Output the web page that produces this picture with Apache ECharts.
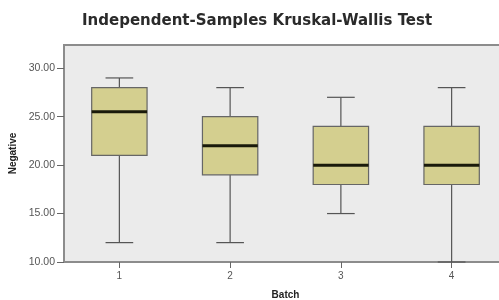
<!DOCTYPE html>
<html><head><meta charset="utf-8">
<script src="https://cdn.jsdelivr.net/npm/echarts@6/dist/echarts.min.js"></script>
<style>html,body{margin:0;padding:0;background:#fff}#c{width:499px;height:300px}</style>
</head><body><div id="c"></div>
<script>
var categories = ['1', '2', '3', '4'];
var mins    = [12, 12, 15, 10];
var q1s     = [21, 19, 18, 18];
var medians = [25.5, 22, 20, 20];
var q3s     = [28, 25, 24, 24];
var maxs    = [29, 28, 27, 28];
var yTicks  = [10, 15, 20, 25, 30];

var data = categories.map(function (c, i) { return [i, mins[i], q1s[i], medians[i], q3s[i], maxs[i]]; });

var chart = echarts.init(document.getElementById('c'), null, {renderer: 'canvas'});
chart.setOption({
  animation: false,
  title: {
    text: 'Independent-Samples Kruskal-Wallis Test', left: 77, top: 9,
    textStyle: {fontFamily: 'DejaVu Sans', fontSize: 15, fontWeight: 'bold', color: '#2a2a2a'}
  },
  grid: {left: 64, width: 443, top: 45, height: 217, outerBoundsMode: 'none', containLabel: false,
    show: true, backgroundColor: '#ebebeb', borderColor: '#8c8c8c', borderWidth: 2},
  xAxis: {
    type: 'category', data: categories, name: 'Batch', nameLocation: 'middle', nameGap: 28,
    nameTextStyle: {fontFamily: 'Liberation Sans', fontSize: 10, fontWeight: 'bold', color: '#222'},
    axisLine: {show: true, lineStyle: {color: '#8c8c8c', width: 2}},
    axisTick: {show: true, alignWithLabel: true, length: 6, lineStyle: {color: '#666'}},
    axisLabel: {fontFamily: 'Liberation Sans', fontSize: 10, color: '#555', margin: 9},
    splitLine: {show: false}
  },
  yAxis: {
    type: 'value', min: 10, max: 32.4, interval: 5, name: 'Negative', nameLocation: 'middle', nameGap: 44,
    nameTextStyle: {fontFamily: 'Liberation Sans', fontSize: 10, fontWeight: 'bold', color: '#222'},
    axisLine: {show: true, lineStyle: {color: '#8c8c8c', width: 2}},
    axisTick: {show: true, length: 7, customValues: yTicks, lineStyle: {color: '#666'}},
    axisLabel: {fontFamily: 'Liberation Sans', fontSize: 10.5, color: '#555', margin: 9, customValues: yTicks,
      formatter: function (v) { return Number(v).toFixed(2); }},
    splitLine: {show: false}
  },
  series: [{
    type: 'custom',
    clip: false,
    data: data,
    encode: {x: 0, y: [1, 2, 3, 4, 5]},
    renderItem: function (params, api) {
      var x = api.value(0);
      var band = api.size([1, 0])[0];
      var bw = band * 0.5, cw = band * 0.25;
      var pMin = api.coord([x, api.value(1)]);
      var pQ1 = api.coord([x, api.value(2)]);
      var pMed = api.coord([x, api.value(3)]);
      var pQ3 = api.coord([x, api.value(4)]);
      var pMax = api.coord([x, api.value(5)]);
      var cx = pMin[0];
      var line = {stroke: '#555', lineWidth: 1.2};
      return {type: 'group', children: [
        {type: 'line', shape: {x1: cx, y1: pMin[1], x2: cx, y2: pQ1[1]}, style: line},
        {type: 'line', shape: {x1: cx, y1: pQ3[1], x2: cx, y2: pMax[1]}, style: line},
        {type: 'line', shape: {x1: cx - cw / 2, y1: pMin[1], x2: cx + cw / 2, y2: pMin[1]}, style: line},
        {type: 'line', shape: {x1: cx - cw / 2, y1: pMax[1], x2: cx + cw / 2, y2: pMax[1]}, style: line},
        {type: 'rect', shape: {x: cx - bw / 2, y: pQ3[1], width: bw, height: pQ1[1] - pQ3[1]},
          style: {fill: '#d4cf8f', stroke: '#666', lineWidth: 1.2}},
        {type: 'line', shape: {x1: cx - bw / 2, y1: pMed[1], x2: cx + bw / 2, y2: pMed[1]},
          style: {stroke: '#1a1a0a', lineWidth: 3}}
      ]};
    }
  }]
});
</script></body></html>
